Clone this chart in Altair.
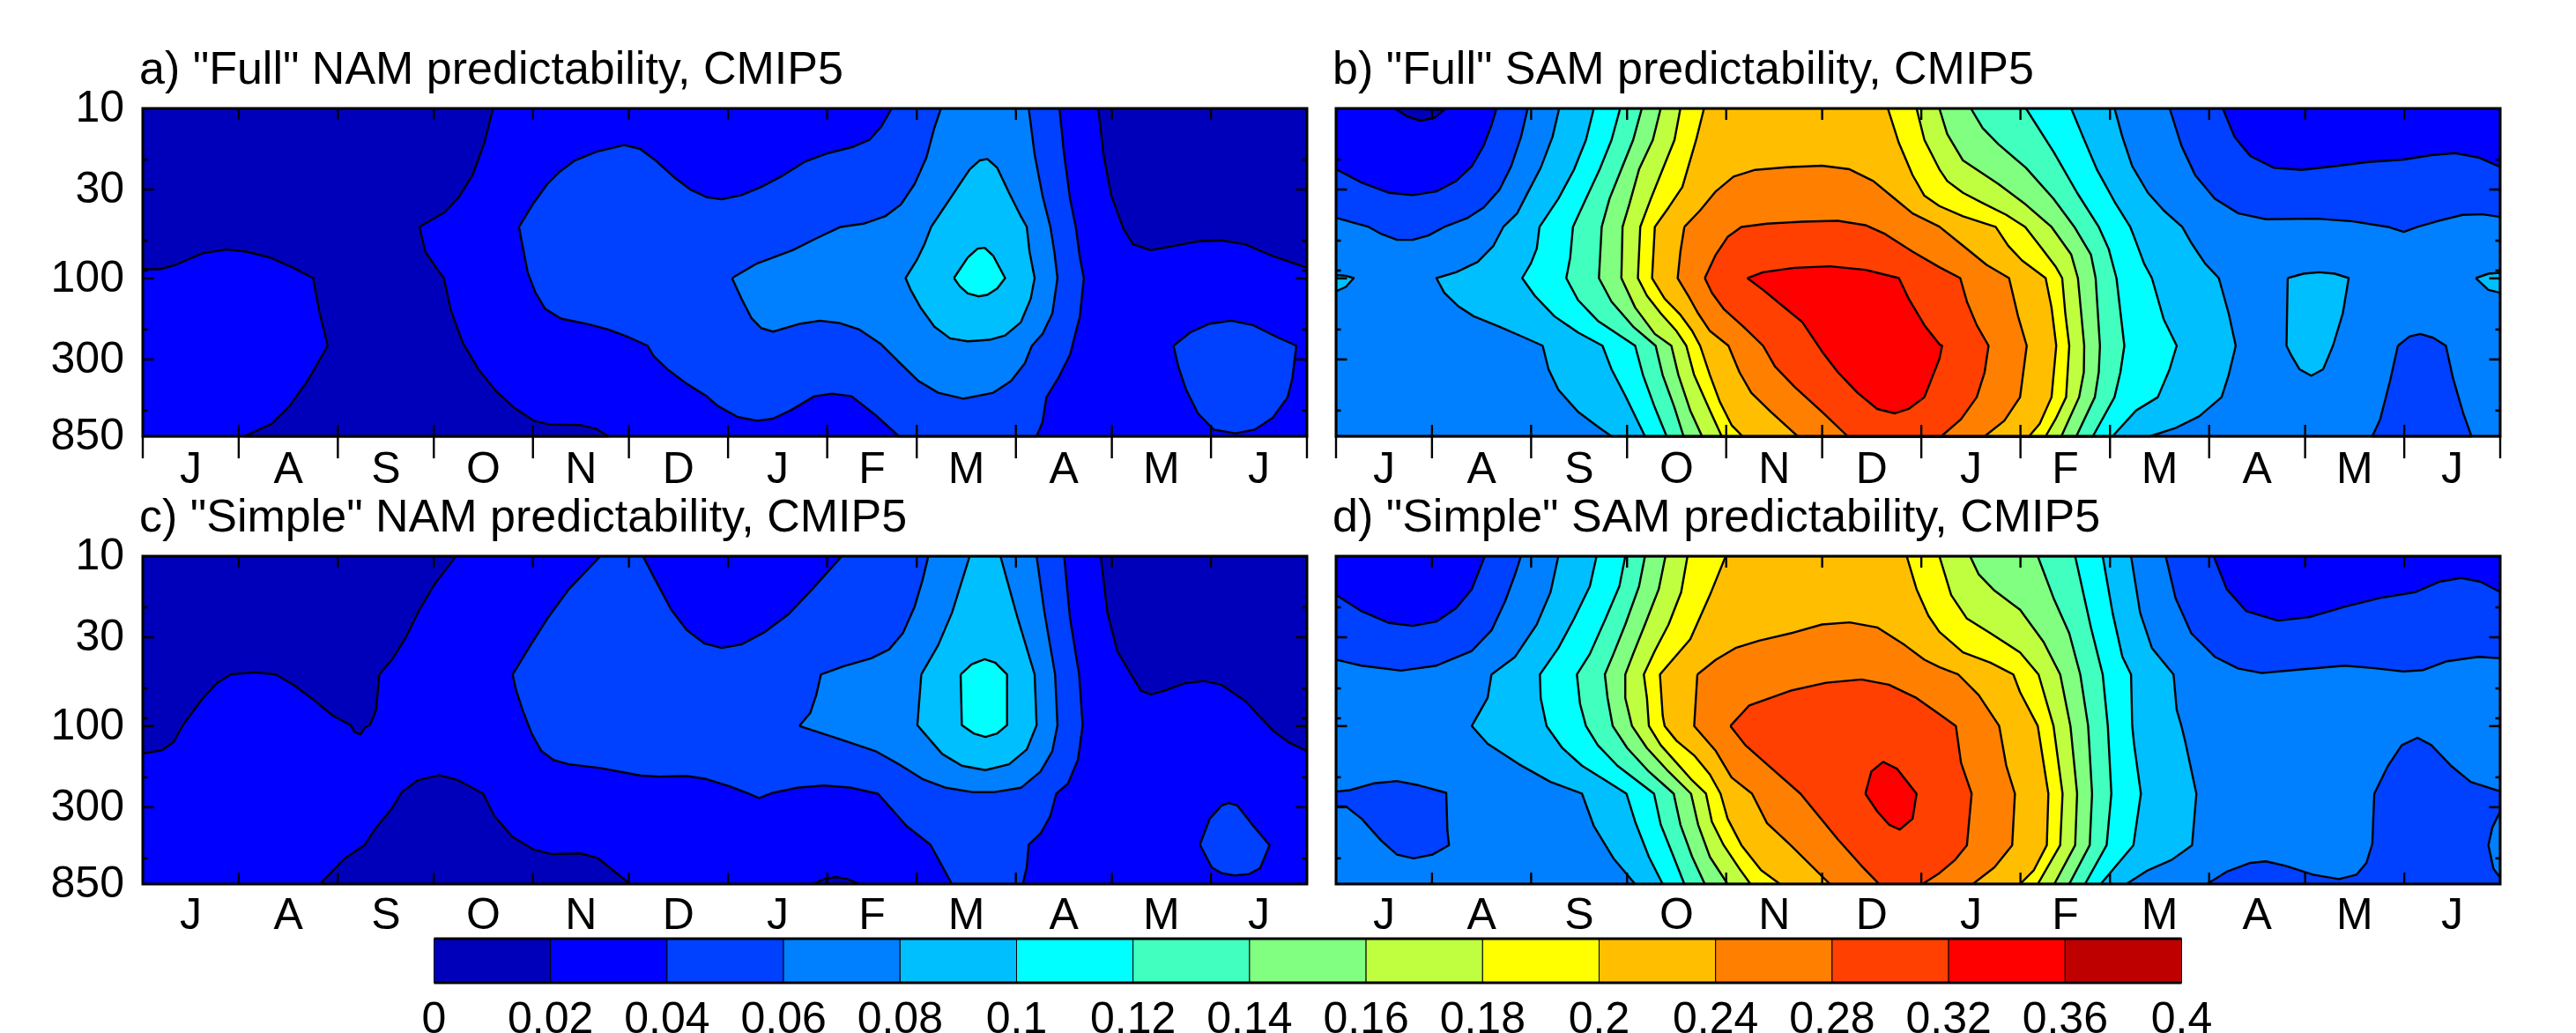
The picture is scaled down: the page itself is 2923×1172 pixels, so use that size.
import altair as alt
import pandas as pd

FONT = "Liberation Sans"
COLORS = ["#0000BB", "#0000FF", "#0040FF", "#0080FF", "#00BFFF", "#00FFFF", "#40FFBF", "#80FF80",
          "#BFFF40", "#FFFF00", "#FFBF00", "#FF8000", "#FF4000", "#FF0000", "#BF0000"]
BAR_LABELS = ["0", "0.02", "0.04", "0.06", "0.08", "0.1", "0.12", "0.14", "0.16", "0.18", "0.2",
              "0.24", "0.28", "0.32", "0.36", "0.4"]
MONTHS = ["J", "A", "S", "O", "N", "D", "J", "F", "M", "A", "M", "J"]
MONTH_EDGES = [0, 30, 61, 91, 122, 152, 183, 214, 242, 273, 303, 334, 364]
P_LABELS = [10, 30, 100, 300, 850]
P_MAJOR = [30, 100, 300]
P_MINOR = [20, 60, 90, 200, 600]
TITLES = ['a) "Full" NAM predictability, CMIP5', 'b) "Full" SAM predictability, CMIP5',
          'c) "Simple" NAM predictability, CMIP5', 'd) "Simple" SAM predictability, CMIP5']

# contour outlines: (colour class, half, [x, y ...], half, [x, y ...] ...)
PANEL_A = [
    (1, "L", [47,63, 47,1178], "R", [1527,1178, 1527,63]),
    (0, "L", [47,63, 937,63, 915,180, 885,290, 850,365, 815,415, 750,466, 765,550, 790,600, 812,640, 830,750, 860,860, 900,950, 945,1025, 990,1080, 1040,1125, 1080,1138, 1160,1140, 1200,1153, 1230,1178, 305,1178, 375,1135, 420,1075, 470,980, 517,870, 495,750, 480,640, 430,605, 370,570, 310,550, 260,543, 200,555, 130,595, 90,610, 47,610]),
    (0, "R", [997,63, 1010,220, 1030,360, 1060,470, 1085,525, 1130,545, 1190,530, 1250,515, 1310,512, 1370,525, 1440,565, 1527,605, 1527,63]),
    (2, "L", [1003,466, 1040,385, 1075,320, 1105,280, 1145,240, 1200,210, 1270,188, 1310,200, 1350,240, 1400,300, 1440,340, 1480,365],
        "R", [40,372, 90,358, 140,330, 190,295, 250,245, 310,215, 370,195, 415,170, 445,125, 472,63, 898,63, 910,220, 925,370, 940,470, 950,570, 960,640, 950,770, 925,900, 895,980, 865,1045, 855,1130, 840,1178, 490,1178, 430,1105, 370,1042, 320,1033, 275,1042, 215,1090, 170,1118, 130,1125, 80,1112, 30,1075, 0,1040],
        "L", [1430,1000, 1380,950, 1345,905, 1330,870, 1280,840, 1230,815, 1180,797, 1110,778, 1070,745, 1045,690, 1025,620, 1012,530]),
    (2, "R", [1188,870, 1230,825, 1280,795, 1335,785, 1390,800, 1450,840, 1500,870, 1490,980, 1478,1045, 1440,1115, 1395,1155, 1345,1168, 1290,1155, 1250,1100, 1220,1020, 1200,940]),
    (3, "R", [66,640, 130,590, 220,545, 280,505, 342,466, 400,455, 455,430, 495,390, 530,320, 560,230, 580,130, 597,63, 820,63, 835,220, 855,360, 875,466, 885,550, 893,640, 880,760, 855,830, 828,870, 810,930, 775,990, 730,1030, 655,1050, 590,1030, 540,990, 490,925, 445,865, 390,815, 340,793, 290,785, 240,795, 170,822, 140,810, 115,775, 90,710]),
    (4, "R", [572,466, 600,410, 640,330, 670,270, 695,240, 715,235, 740,265, 770,350, 800,430, 815,466, 822,550, 835,640, 825,710, 800,790, 760,835, 720,850, 665,855, 620,845, 580,805, 545,740, 520,680, 507,640, 535,580, 555,525]),
    (5, "R", [630,640, 665,570, 690,540, 708,537, 730,565, 760,640, 740,675, 715,697, 692,702, 665,692, 645,668]),
]
PANEL_B = [
    (3, "L", [35,63, 35,1178], "R", [1425,1178, 1425,63]),
    (2, "L", [35,435, 75,450, 118,466, 150,490, 190,510, 230,510, 270,495, 310,466, 370,435, 410,400, 450,340, 480,260, 505,160, 522,63, 35,63]),
    (1, "L", [35,270, 100,315, 170,350, 230,358, 290,345, 340,310, 380,260, 410,190, 430,120, 443,63, 35,63]),
    (0, "L", [185,63, 215,90, 250,105, 285,95, 310,68]),
    (4, "L", [35,630, 60,632, 80,640, 60,670, 35,685]),
    (2, "R", [585,63, 615,190, 650,290, 700,370, 760,420, 830,440, 960,438, 1050,447, 1140,466, 1180,483, 1215,466, 1270,445, 1330,425, 1380,423, 1425,432, 1425,63]),
    (1, "R", [720,63, 750,160, 790,225, 850,265, 920,272, 1000,260, 1090,245, 1180,237, 1250,222, 1310,215, 1370,230, 1425,262, 1425,63]),
    (2, "R", [1165,870, 1195,838, 1222,830, 1255,843, 1287,870, 1305,980, 1330,1095, 1352,1178, 1100,1178, 1120,1120, 1145,990]),
    (4, "R", [885,640, 925,625, 965,620, 1005,625, 1040,640, 1025,760, 1000,870, 975,950, 945,972, 915,950, 895,905, 882,870]),
    (4, "R", [1363,640, 1395,625, 1425,622, 1425,690, 1395,680]),
    (4, "L", [602,63, 585,160, 555,265, 520,355, 495,420, 460,466, 435,530, 395,585, 340,620, 290,640, 310,690, 345,735, 385,770, 450,805, 510,840, 560,870, 575,950, 600,1020, 650,1095, 700,1145, 735,1178],
        "R", [535,1178, 600,1150, 660,1110, 717,1045, 735,970, 753,870, 735,760, 710,640, 675,590, 640,520, 617,466, 570,410, 530,350, 490,260, 465,160, 445,63]),
    (5, "L", [690,63, 670,170, 640,270, 600,370, 552,466, 545,540, 530,590, 508,640, 540,700, 590,770, 650,825, 712,870, 735,950, 770,1040, 820,1178],
        "R", [440,1178, 500,1090, 555,1045, 585,950, 603,870, 570,780, 540,640, 520,590, 495,500, 485,466, 445,380, 400,270, 365,160, 335,63]),
    (6, "L", [757,63, 735,170, 705,270, 670,370, 637,466, 630,570, 620,640, 650,715, 700,785, 795,870, 815,970, 845,1080, 875,1178],
        "R", [390,1178, 445,1045, 460,960, 470,870, 450,640, 430,540, 405,466, 350,350, 290,210, 220,63]),
    (7, "L", [812,63, 790,170, 760,270, 730,370, 710,466, 703,640, 735,720, 790,805, 847,870, 865,970, 895,1080, 918,1178],
        "R", [348,1178, 395,1045, 405,960, 408,870, 397,640, 385,560, 343,466, 290,370, 220,265, 150,185, 110,130, 80,63]),
    (8, "L", [860,63, 840,170, 805,270, 780,390, 763,466, 760,640, 795,740, 845,830, 887,870, 905,970, 935,1090, 965,1178],
        "R", [310,1178, 355,1045, 367,960, 368,870, 352,640, 335,560, 285,466, 215,385, 150,320, 60,240, 20,150, 0,63]),
    (9, "L", [910,63, 895,170, 865,270, 835,370, 808,466, 802,640, 825,700, 860,760, 900,820, 925,870, 945,970, 985,1090, 1015,1178],
        "R", [270,1178, 295,1120, 322,1045, 330,870, 320,760, 312,640, 295,600, 255,530, 218,466, 170,425, 110,385, 60,350, 20,310, 0,270],
        "L", [1530,170, 1510,63]),
    (10, "L", [970,63, 950,170, 915,330, 880,400, 845,466, 838,640, 870,710, 910,765, 940,820, 960,870, 985,970, 1010,1060, 1040,1140, 1068,1178],
         "R", [228,1178, 255,1135, 285,1045, 297,870, 285,740, 270,640, 210,580, 175,530, 143,466, 60,430, 0,395],
         "L", [1530,360, 1500,290, 1465,180, 1437,63]),
    (11, "L", [920,466, 960,410, 1000,345, 1045,295, 1100,272, 1180,263, 1270,258, 1340,270, 1400,310, 1450,365, 1500,420],
         "R", [0,465, 60,530, 120,595, 177,640, 200,770, 222,870, 205,1045, 165,1125, 115,1178],
         "L", [1208,1178, 1140,1095, 1090,1030, 1060,960, 1032,870, 985,820, 955,760, 930,700, 903,640, 910,550]),
    (12, "L", [972,640, 1000,560, 1030,500, 1065,466, 1130,455, 1220,448, 1310,445, 1380,460, 1430,490, 1500,550],
         "R", [0,603, 53,640, 70,720, 95,800, 125,870, 115,960, 95,1045, 55,1120, 5,1178],
         "L", [1335,1178, 1270,1095, 1200,1010, 1150,940, 1120,870, 1070,805, 1020,745, 990,690]),
    (13, "L", [1080,640, 1120,620, 1200,605, 1290,600, 1380,612, 1465,640, 1490,710, 1530,800],
         "R", [0,865, 7,870, 0,915],
         "L", [1530,1045, 1490,1085, 1455,1100, 1410,1085, 1360,1030, 1310,960, 1270,890, 1220,790, 1170,735, 1120,680]),
]
PANEL_C = [
    (1, "L", [47,58, 47,1172], "R", [1527,1172, 1527,58]),
    (0, "L", [47,58, 843,58, 790,150, 750,240, 715,335, 680,410, 648,460, 640,580, 625,630, 612,640, 600,663, 585,655, 575,632, 530,600, 480,545, 430,495, 385,460, 330,453, 270,460, 235,490, 200,540, 150,630, 125,690, 95,718, 47,728]),
    (0, "L", [497,1172, 560,1085, 610,1040, 640,980, 680,915, 705,860, 745,820, 800,802, 850,820, 912,865, 940,940, 985,1010, 1040,1055, 1085,1070, 1160,1068, 1205,1085, 1285,1172]),
    (0, "R", [1003,58, 1020,250, 1045,380, 1080,460, 1105,515, 1130,528, 1165,515, 1215,490, 1265,482, 1310,495, 1370,550, 1440,650, 1480,690, 1527,720, 1527,58]),
    (0, "R", [270,1172, 300,1155, 330,1148, 360,1155, 390,1172]),
    (2, "L", [987,460, 1030,365, 1075,270, 1130,170, 1210,58, 1318,58, 1350,140, 1390,240, 1430,310, 1475,355],
        "R", [40,370, 90,358, 150,315, 210,255, 270,170, 345,58, 910,58, 925,270, 948,460, 957,632, 945,750, 920,830, 890,865, 875,940, 850,1000, 820,1038, 815,1115, 805,1172, 625,1172, 570,1038, 510,975, 437,865, 370,845, 300,837, 230,845, 170,862, 135,880, 108,865, 60,840, 0,815],
        "L", [1430,805, 1360,807, 1310,803, 1210,778, 1130,765, 1090,750, 1060,720, 1035,660, 1012,580, 995,510]),
    (2, "R", [1255,1038, 1280,950, 1310,905, 1328,897, 1350,905, 1385,965, 1432,1040, 1408,1118, 1380,1138, 1345,1143, 1310,1135, 1285,1115]),
    (3, "R", [237,635, 265,590, 280,530, 292,460, 350,432, 420,405, 465,375, 500,320, 530,230, 550,140, 565,58, 840,58, 860,250, 887,460, 893,632, 880,720, 850,790, 800,845, 730,860, 680,860, 610,845, 550,815, 490,765, 430,720, 340,680]),
    (4, "R", [547,460, 590,360, 625,250, 670,58, 748,58, 790,260, 835,460, 840,632, 815,715, 770,765, 710,785, 650,770, 600,730, 537,632]),
    (5, "R", [647,460, 675,425, 708,408, 735,420, 765,460, 765,632, 740,660, 710,672, 680,660, 650,632]),
]
PANEL_D = [
    (3, "L", [35,58, 35,1172], "R", [1425,1172, 1425,58]),
    (2, "L", [35,410, 100,430, 200,447, 290,430, 380,380, 430,310, 465,210, 490,120, 505,58, 35,58]),
    (1, "L", [35,190, 100,245, 170,285, 230,295, 290,280, 340,235, 380,170, 413,58, 35,58]),
    (2, "L", [35,858, 70,853, 130,830, 190,822, 240,835, 315,862, 318,990, 322,1040, 280,1072, 232,1085, 190,1072, 150,1025, 100,950, 60,908, 35,908]),
    (2, "R", [575,58, 600,200, 640,320, 700,400, 760,440, 820,455, 900,445, 1030,430, 1100,438, 1180,450, 1230,445, 1290,415, 1370,400, 1425,405, 1425,58]),
    (1, "R", [697,58, 730,170, 780,245, 860,277, 940,265, 1030,230, 1120,200, 1210,180, 1270,145, 1325,132, 1375,145, 1425,180, 1425,58]),
    (2, "R", [680,1172, 730,1130, 790,1100, 830,1095, 880,1110, 950,1140, 1015,1155, 1060,1140, 1085,1100, 1100,1035, 1105,865, 1140,770, 1175,700, 1215,675, 1250,700, 1300,770, 1350,825, 1425,857, 1425,925, 1405,980, 1395,1040, 1408,1120, 1425,1150, 1425,1172]),
    (4, "L", [600,58, 580,180, 545,290, 490,400, 430,460, 420,540, 380,635, 420,695, 500,765, 580,825, 660,865, 690,975, 740,1085, 795,1172],
        "R", [475,1172, 530,1125, 590,1090, 642,1040, 653,865, 625,690, 615,635, 603,580, 595,460, 540,370, 510,250, 487,58]),
    (5, "L", [697,58, 680,160, 640,270, 600,370, 553,460, 555,540, 570,635, 610,710, 660,770, 720,820, 773,865, 795,960, 830,1080, 865,1172],
        "R", [410,1172, 493,1040, 512,865, 495,700, 490,635, 487,460, 465,400, 440,250, 415,58]),
    (6, "L", [770,58, 755,160, 720,270, 680,390, 647,460, 655,560, 670,635, 700,700, 750,770, 843,865, 860,970, 890,1070, 920,1172],
        "R", [370,1172, 425,1040, 437,865, 428,635, 415,460, 385,300, 345,58]),
    (7, "L", [820,58, 805,160, 770,290, 740,390, 718,460, 725,540, 738,635, 775,710, 830,790, 893,865, 910,970, 940,1080, 972,1172],
        "R", [330,1172, 382,1040, 388,865, 378,635, 358,460, 330,320, 290,200, 250,58]),
    (8, "L", [872,58, 855,170, 820,290, 790,390, 770,460, 770,540, 787,635, 825,710, 880,790, 937,865, 955,970, 985,1080, 1030,1172],
        "R", [292,1172, 345,1040, 350,865, 333,635, 307,460, 265,350, 205,240, 140,175, 100,120, 78,58]),
    (9, "L", [928,58, 912,180, 880,290, 845,380, 817,460, 825,540, 830,635, 860,700, 900,760, 940,820, 975,865, 990,960, 1020,1040, 1060,1120, 1088,1172],
        "R", [250,1172, 307,1040, 313,865, 290,635, 252,460, 205,385, 130,320, 70,270, 30,190, 0,58]),
    (10, "L", [1025,58, 985,190, 935,340, 858,460, 865,600, 870,635, 900,685, 945,735, 985,800, 1012,865, 1030,950, 1065,1040, 1115,1125, 1163,1172],
         "R", [205,1172, 240,1125, 273,1040, 277,865, 250,635, 205,520, 188,460, 130,420, 60,385, 0,315],
         "L", [1540,260, 1510,170, 1485,58]),
    (11, "L", [953,460, 1000,410, 1050,370, 1110,345, 1190,320, 1270,290, 1340,283, 1410,300, 1480,360, 1530,410],
         "R", [0,435, 48,460, 100,530, 152,635, 170,770, 192,865, 185,1040, 140,1115, 85,1172],
         "L", [1290,1172, 1190,1040, 1130,965, 1092,865, 1040,810, 1000,720, 945,635]),
    (12, "L", [1037,635, 1085,565, 1190,515, 1280,488, 1370,477, 1440,495, 1510,540],
         "R", [0,595, 42,635, 55,760, 82,865, 70,1040, 40,1090, 0,1135],
         "L", [1525,1172, 1415,1172, 1370,1110, 1310,1020, 1215,865, 1130,765, 1075,700]),
    (13, "L", [1380,865, 1395,790, 1425,757, 1460,780, 1510,865, 1500,950, 1467,987, 1440,970, 1410,925]),
]

W, H = 1321, 372
ROW_GAP = 62
TOP_EXTRA = 74  # first row reaches this far below its plot so the rows land where they should
x_scale = alt.Scale(domain=[0, 364], nice=False, zero=False)
y_scale = alt.Scale(type="log", domain=[10, 850], range=[0, H], nice=False)
fill_scale = alt.Scale(domain=list(range(15)), range=COLORS)
TICK_FONT = 50
TITLE_FONT = 52


def outline_table(polys, x0, x1, offset, y0, y1):
    rows = []
    for pid, poly in enumerate(polys):
        lvl = poly[0]
        k = 0
        for half, coords in zip(poly[1::2], poly[2::2]):
            for j in range(0, len(coords), 2):
                u = coords[j] + (offset if half == "R" else 0)
                v = coords[j + 1]
                rows.append({
                    "day": (u - x0) / (x1 - x0) * 364,
                    "p": 10 * 85 ** ((v - y0) / (y1 - y0)),
                    "lvl": lvl, "poly": pid, "i": k,
                })
                k += 1
        first = dict(rows[-k])
        first["i"] = k
        rows.append(first)
    return pd.DataFrame(rows)


def panel(polys, title, x0, x1, offset, y0, y1, left, outer_ticks, label_dy, height):
    df = outline_table(polys, x0, x1, offset, y0, y1)
    X = alt.X("day:Q", scale=x_scale, axis=None, title=None)
    Y = alt.Y("p:Q", scale=y_scale, axis=None, title=None)

    layers = [
        alt.Chart(df).mark_line(stroke="black", strokeWidth=2.4, clip=True, strokeJoin="round").encode(
            x=X, y=Y,
            fill=alt.Fill("lvl:O", scale=fill_scale, legend=None),
            detail="poly:N", order="i:Q")
    ]
    edges = pd.DataFrame({"day": MONTH_EDGES[1:-1]})
    layers.append(alt.Chart(edges).mark_rule(color="black", strokeWidth=2.4).encode(
        x=X, y=alt.value(0), y2=alt.value(13)))
    layers.append(alt.Chart(edges).mark_rule(color="black", strokeWidth=2.4).encode(
        x=X, y=alt.value(H - 13), y2=alt.value(H + 25 if outer_ticks else H)))
    if outer_ticks:
        layers.append(alt.Chart(pd.DataFrame({"day": [0, 364]})).mark_rule(color="black", strokeWidth=2.4).encode(
            x=X, y=alt.value(H), y2=alt.value(H + 25)))
    for ticks, size in ((P_MAJOR, 12.5), (P_MINOR, 5.5)):
        t = pd.DataFrame({"p": ticks})
        layers.append(alt.Chart(t).mark_rule(color="black", strokeWidth=2.6).encode(
            y=Y, x=alt.value(0), x2=alt.value(size)))
        layers.append(alt.Chart(t).mark_rule(color="black", strokeWidth=2.6).encode(
            y=Y, x=alt.value(W - size), x2=alt.value(W)))
    layers.append(alt.Chart(pd.DataFrame({"a": [0]})).mark_rect(
        filled=False, stroke="black", strokeWidth=3).encode(
        x=alt.value(0), x2=alt.value(W), y=alt.value(0), y2=alt.value(H)))
    mids = pd.DataFrame({"day": [(a + b) / 2 for a, b in zip(MONTH_EDGES[:-1], MONTH_EDGES[1:])], "m": MONTHS})
    layers.append(alt.Chart(mids).mark_text(font=FONT, fontSize=TICK_FONT, color="black", align="center",
                                            baseline="alphabetic").encode(
        x=X, y=alt.value(H + label_dy), text="m:N"))
    layers.append(alt.Chart(pd.DataFrame({"t": [title]})).mark_text(
        font=FONT, fontSize=TITLE_FONT, color="black", align="left", baseline="alphabetic").encode(
        x=alt.value(-4), y=alt.value(-28), text="t:N"))
    if left:
        layers.append(alt.Chart(pd.DataFrame({"p": P_LABELS, "t": [str(v) for v in P_LABELS]})).mark_text(
            font=FONT, fontSize=TICK_FONT, color="black", align="right", baseline="middle").encode(
            y=Y, x=alt.value(-21), text="t:N"))
    return alt.layer(*layers).properties(width=W, height=height)


a = panel(PANEL_A, TITLES[0], 47, 3005.4, 1478.4, 63, 1178, True, True, 53, H + TOP_EXTRA)
b = panel(PANEL_B, TITLES[1], 35, 2993, 1568, 63, 1178, False, True, 53, H + TOP_EXTRA)
c = panel(PANEL_C, TITLES[2], 47, 3005.4, 1478.4, 58, 1172, True, False, 51, H)
d = panel(PANEL_D, TITLES[3], 35, 2993, 1568, 58, 1172, False, False, 51, H)

# colour bar
bar_scale = alt.Scale(domain=[0, 15], range=[330.5, 330.5 + 1983], nice=False, zero=False)
BX = alt.X("i:Q", scale=bar_scale, axis=None, title=None)
cells = pd.DataFrame({"i": list(range(15)), "j": list(range(1, 16)), "lvl": list(range(15))})
labels = pd.DataFrame({"i": list(range(16)), "t": BAR_LABELS})
ends = pd.DataFrame({"i": [0], "j": [15]})
bar = alt.layer(
    alt.Chart(cells).mark_rect(stroke="black", strokeWidth=1).encode(
        x=BX, x2="j:Q", y=alt.value(0), y2=alt.value(50),
        fill=alt.Fill("lvl:O", scale=fill_scale, legend=None)),
    alt.Chart(ends).mark_rule(color="black", strokeWidth=3).encode(x=BX, x2="j:Q", y=alt.value(0)),
    alt.Chart(ends).mark_rule(color="black", strokeWidth=3).encode(x=BX, x2="j:Q", y=alt.value(50)),
    alt.Chart(labels).mark_text(font=FONT, fontSize=TICK_FONT, color="black", align="center",
                                baseline="alphabetic").encode(x=BX, y=alt.value(107), text="t:N"),
).properties(width=W, height=50)

chart = alt.concat(a, b, c, d, bar, columns=2, spacing={"row": ROW_GAP, "column": 33},
                   bounds="flush", align="each").properties(
    padding={"left": 49, "top": 45, "right": 0, "bottom": 0}
).configure_view(stroke=None)

chart.save("out.html", embed_options={"renderer": "svg", "actions": False})
